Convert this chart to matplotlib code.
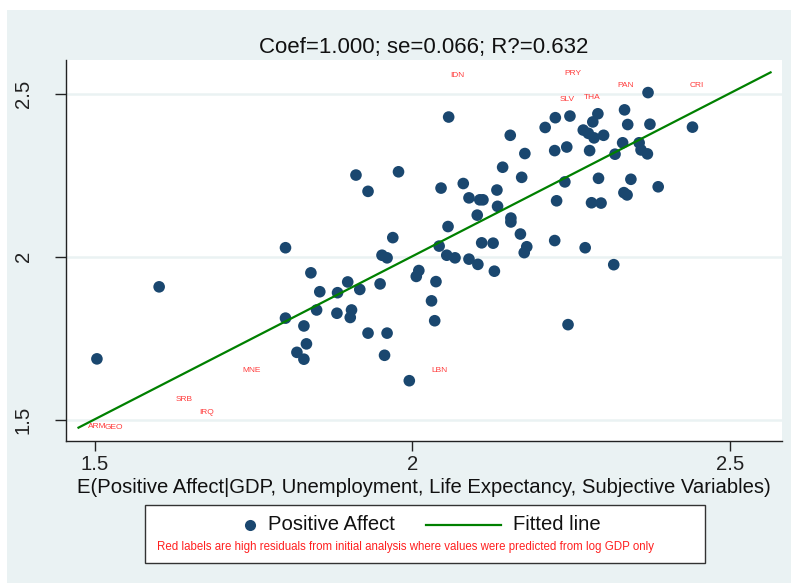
import matplotlib
matplotlib.use("Agg")
import matplotlib.pyplot as plt
from matplotlib.patches import Rectangle
from matplotlib.lines import Line2D

plt.rcParams['font.family'] = ['Liberation Sans', 'DejaVu Sans']

# predicted (x) vs observed (y) positive affect, one point per country
pred = [2.057, 1.911, 1.978, 1.930, 2.045, 2.080, 2.089, 2.106, 2.111, 2.133,
        2.134, 2.102, 2.056, 2.154, 2.177, 2.142, 2.172, 2.155, 2.155, 2.170,
        2.180, 2.109, 2.127, 2.042, 1.969, 2.209, 2.225, 2.224, 2.227, 2.224,
        2.248, 2.243, 2.292, 2.284, 2.269, 2.277, 2.286, 2.301, 2.279, 2.334,
        2.339, 2.371, 2.374, 2.331, 2.319, 2.357, 2.360, 2.370, 2.441, 2.240,
        2.293, 2.344, 2.387, 2.333, 2.338, 2.282, 2.297, 2.272, 2.317, 2.245,
        1.800, 1.601, 1.503, 1.840, 1.854, 1.849, 1.800, 1.829, 1.833, 1.818,
        1.829, 2.176, 1.952, 1.960, 2.054, 2.067, 2.089, 2.103, 2.129, 1.898,
        1.882, 1.917, 1.949, 2.010, 2.006, 2.037, 1.881, 1.904, 1.902, 2.030,
        2.035, 1.930, 1.960, 1.956, 1.995]
obs = [2.429, 2.251, 2.261, 2.201, 2.211, 2.225, 2.181, 2.175, 2.175, 2.205,
       2.155, 2.128, 2.093, 2.373, 2.317, 2.275, 2.244, 2.119, 2.107, 2.070,
       2.031, 2.043, 2.042, 2.033, 2.059, 2.397, 2.427, 2.326, 2.172, 2.050,
       2.432, 2.337, 2.439, 2.414, 2.389, 2.379, 2.365, 2.373, 2.326, 2.451,
       2.406, 2.504, 2.407, 2.350, 2.315, 2.350, 2.328, 2.316, 2.398, 2.230,
       2.241, 2.238, 2.215, 2.197, 2.190, 2.166, 2.165, 2.028, 1.976, 1.792,
       2.028, 1.908, 1.687, 1.951, 1.893, 1.837, 1.812, 1.788, 1.733, 1.707,
       1.686, 2.013, 2.005, 1.997, 2.005, 1.997, 1.993, 1.977, 1.956, 1.923,
       1.890, 1.900, 1.917, 1.958, 1.940, 1.924, 1.827, 1.837, 1.814, 1.865,
       1.804, 1.766, 1.766, 1.698, 1.620]

# high residual countries from the log GDP only model
red_codes = ['IDN', 'PRY', 'SLV', 'THA', 'PAN', 'CRI', 'MNE', 'SRB', 'IRQ',
             'ARM', 'GEO', 'LBN']
red_x = [2.070, 2.253, 2.243, 2.283, 2.335, 2.448, 1.747, 1.640, 1.676,
         1.503, 1.530, 2.043]
red_y = [2.555, 2.564, 2.482, 2.488, 2.525, 2.525, 1.650, 1.561, 1.522,
         1.481, 1.475, 1.650]

coef = 1.000
const = 0.002
fit_range = [1.474, 2.564]
title = 'Coef=1.000; se=0.066; R?=0.632'

bg = '#eaf2f3'
navy = '#1a476f'
green = '#008000'

fig = plt.figure(figsize=(7.91, 5.83), dpi=100)
fig.patch.set_facecolor('white')
fig.add_artist(Rectangle((7/791, 0), 1, 1 - 10/583, transform=fig.transFigure,
                         facecolor=bg, edgecolor='none', zorder=-10))

ax = fig.add_axes([66/791, 1 - 441/583, 716/791, 381/583])
ax.set_facecolor('white')

ax.scatter(pred, obs, s=70, color=navy, edgecolors='none', zorder=3)
fit_y = [const + coef * v for v in fit_range]
ax.plot(fit_range, fit_y, color=green, lw=1.6, zorder=4)
for c, x, y in zip(red_codes, red_x, red_y):
    ax.text(x, y, c, color='#ff3b3b', fontsize=6, ha='center', va='center')

ax.set_xlim(1.4543, 2.582)
ax.set_ylim(1.435, 2.604)
ax.set_xticks([1.5, 2, 2.5])
ax.set_xticklabels(['1.5', '2', '2.5'])
ax.set_yticks([1.5, 2, 2.5])
ax.set_yticklabels(['1.5', '2', '2.5'], rotation=90, va='center')
ax.tick_params(axis='y', length=8, width=1, labelsize=14.6, pad=16, colors='#222222')
ax.tick_params(axis='x', length=7, width=1, labelsize=14.6, pad=3, colors='#222222')
ax.yaxis.grid(True, color=bg, lw=1.8)
ax.set_axisbelow(True)
for s in ['top', 'right']:
    ax.spines[s].set_visible(False)
for s in ['left', 'bottom']:
    ax.spines[s].set_color('#222222')
    ax.spines[s].set_linewidth(1)

ax.set_title(title, fontsize=16, pad=5, color='#111111')
ax.set_xlabel('E(Positive Affect|GDP, Unemployment, Life Expectancy, Subjective Variables)',
              fontsize=14.6, labelpad=3, color='#111111')

# legend box drawn by hand
fig.add_artist(Rectangle((145/791, 1 - 563/583), 560/791, 58/583,
                         transform=fig.transFigure, facecolor='white',
                         edgecolor='#333333', lw=1))
ly = 1 - 525/583
fig.add_artist(Line2D([250/791], [ly], marker='o', markersize=8, color=navy,
                      markeredgecolor='none', transform=fig.transFigure))
fig.text(268/791, ly, 'Positive Affect', fontsize=14.6, va='center', ha='left', color='#111111')
fig.add_artist(Line2D([426/791, 501/791], [ly, ly], color=green, lw=1.6,
                      transform=fig.transFigure))
fig.text(513/791, ly, 'Fitted line', fontsize=14.6, va='center', ha='left', color='#111111')
fig.text(157/791, 1 - 547/583,
         'Red labels are high residuals from initial analysis where values were predicted from log GDP only',
         fontsize=8.3, color='#ff2020', va='center', ha='left')

fig.savefig('out.png', dpi=100)
